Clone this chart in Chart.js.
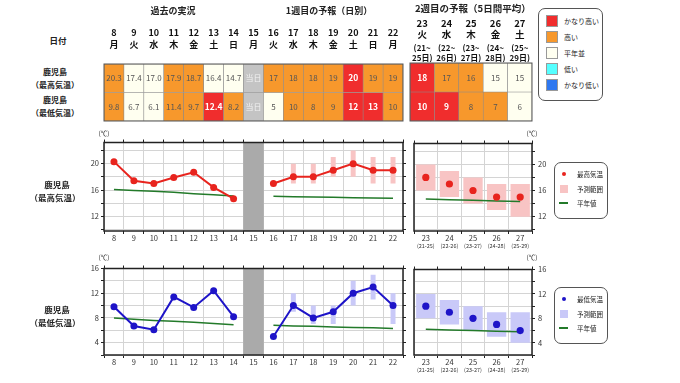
<!DOCTYPE html>
<html>
<head>
<meta charset="utf-8">
<script src="https://cdn.jsdelivr.net/npm/chart.js@4.4.1/dist/chart.umd.min.js"></script>
<style>
  body { margin: 0; background: #fff; }
  #wrap { position: relative; width: 680px; height: 383px; overflow: hidden; background: #fff;
          font-family: "Noto Sans CJK JP", "Noto Sans", sans-serif; color: #222; }
  #wrap canvas { position: absolute; }
  .tx { position: absolute; white-space: nowrap; line-height: 1; }
  .box { position: absolute; border: 1.5px solid #555; border-radius: 7px; background: #fff; box-sizing: border-box; }
  .sw { position: absolute; box-sizing: border-box; }
</style>
</head>
<body>
<div id="wrap">
  <canvas id="tblL"></canvas>
  <canvas id="tblR"></canvas>
  <canvas id="maxL"></canvas>
  <canvas id="maxR"></canvas>
  <canvas id="minL"></canvas>
  <canvas id="minR"></canvas>
</div>
<script>
// 日付（過去の実況 + 1週目）
var days1 = ['8','9','10','11','12','13','14','15','16','17','18','19','20','21','22'];
var week1 = ['月','火','水','木','金','土','日','月','火','水','木','金','土','日','月'];
var today = '15';
var obsDays = 7;   // 8〜14日は実況値
// 2週目（5日間平均）
var days2 = ['23','24','25','26','27'];
var week2 = ['火','水','木','金','土'];
var from2 = ['(21~','(22~','(23~','(24~','(25~'];
var to2   = ['25日)','26日)','27日)','28日)','29日)'];
var span2 = ['(21-25)','(22-26)','(23-27)','(24-28)','(25-29)'];

// 最高気温
var maxTemp1 = [20.3,17.4,17.0,17.9,18.7,16.4,14.7,null,17,18,18,19,20,19,19];
var maxLow1  = [null,null,null,null,null,null,null,null,null,17,17,18,18,17,17];
var maxHigh1 = [null,null,null,null,null,null,null,null,null,20,20,21,22,21,21];
var maxNorm1 = [16.1,15.95,15.8,15.65,15.45,15.3,15.1,null,15.05,15.0,14.95,14.9,14.85,14.8,14.75];
var maxRank1 = ['h','n','n','h','h','n','n','t','h','h','h','h','vh','h','h'];
var maxTemp2 = [18,17,16,15,15];
var maxLow2  = [16,15,14,13,12];
var maxHigh2 = [20,19,18,17,17];
var maxNorm2 = [14.7,14.6,14.5,14.4,14.3];
var maxRank2 = ['vh','h','h','n','n'];

// 最低気温
var minTemp1 = [9.8,6.7,6.1,11.4,9.7,12.4,8.2,null,5,10,8,9,12,13,10];
var minLow1  = [null,null,null,null,null,null,null,null,null,9,7,7,10,11,7];
var minHigh1 = [null,null,null,null,null,null,null,null,null,12,10,10,14,15,12];
var minNorm1 = [8.0,7.8,7.6,7.45,7.3,7.1,6.9,null,6.8,6.7,6.65,6.55,6.45,6.4,6.3];
var minRank1 = ['h','n','n','h','h','vh','h','t','n','h','h','h','vh','vh','h'];
var minTemp2 = [10,9,8,7,6];
var minLow2  = [8,7,6,5,4];
var minHigh2 = [12,11,10,9,9];
var minNorm2 = [6.2,6.1,6.0,5.9,5.8];
var minRank2 = ['vh','vh','h','h','n'];

var rankNames  = ['かなり高い','高い','平年並','低い','かなり低い'];
var rankColors = ['#f02d2d','#f7982c','#fffff0','#55ffff','#2f78f0'];
var RANK = { vh: '#f02d2d', h: '#f7982c', n: '#fffff0', t: '#c4c4c4' };

var RED = '#e8241e', BLUE = '#1e14c8', GREEN = '#237a2a';
var PINK = '#f8c4c4', LAV = '#c9c9f8', GRID = '#d4d4d4';

Chart.defaults.font.family = '"Noto Sans CJK JP", "Noto Sans", sans-serif';
Chart.defaults.color = '#333';

var wrap = document.getElementById('wrap');

function place(id, x0, y0, x1, y1, m) {
  var c = document.getElementById(id);
  c.width = x1 - x0 + m.l + m.r;
  c.height = y1 - y0 + m.t + m.b;
  c.style.left = (x0 - m.l) + 'px';
  c.style.top = (y0 - m.t) + 'px';
  return c;
}

function fixSize(n) {
  return function (s) { if (s.isHorizontal()) s.height = n; else s.width = n; };
}

// 枠線
var frame = {
  id: 'frame',
  afterDraw: function (chart, args, opts) {
    var a = chart.chartArea, ctx = chart.ctx;
    ctx.save();
    ctx.strokeStyle = opts.color || '#222';
    ctx.lineWidth = opts.width || 1.5;
    ctx.strokeRect(a.left, a.top, a.right - a.left, a.bottom - a.top);
    ctx.restore();
  }
};

// 表のセルの数字
var cellText = {
  id: 'cellText',
  afterDatasetsDraw: function (chart) {
    var ctx = chart.ctx;
    chart.data.datasets.forEach(function (ds, di) {
      chart.getDatasetMeta(di).data.forEach(function (bar, i) {
        var rk = ds.rank[i];
        ctx.save();
        ctx.font = (rk === 'vh' ? 'bold 8.5px ' : '8px ') + Chart.defaults.font.family;
        ctx.fillStyle = rk === 'vh' ? '#fff' : (rk === 't' ? '#f2f2f2' : '#555');
        ctx.textAlign = 'center';
        ctx.textBaseline = 'middle';
        ctx.fillText(ds.text[i], bar.x, (bar.y + bar.base) / 2);
        ctx.restore();
      });
    });
  }
};

function fmt1(temps) {
  return temps.map(function (v, i) {
    if (v == null) return '当日';
    return i < obsDays ? v.toFixed(1) : String(v);
  });
}
function fmt2(temps) { return temps.map(function (v) { return String(v); }); }

// headers: 表に近い順
function tableChart(id, x0, x1, y0, y1, cats, headers, rows) {
  var top = 0;
  headers.forEach(function (h) { top += h.h; });
  var c = place(id, x0, y0, x1, y1, { l: 10, r: 10, t: top, b: 2 });
  var ds = rows.map(function (r, k) {
    var lo = rows.length - 1 - k;
    return {
      data: r.rank.map(function () { return [lo, lo + 1]; }),
      backgroundColor: r.rank.map(function (rk) { return RANK[rk]; }),
      borderColor: '#8a8a8a', borderWidth: 0.6, borderSkipped: false,
      barPercentage: 1, categoryPercentage: 1, grouped: false,
      rank: r.rank, text: r.text
    };
  });
  var scales = { y: { display: false, min: 0, max: 2 } };
  headers.forEach(function (h, i) {
    scales[i === 0 ? 'x' : 'h' + i] = {
      type: 'category', labels: h.labels, position: 'top', offset: true, weight: i,
      grid: { display: false, drawTicks: false }, border: { display: false },
      ticks: { autoSkip: false, maxRotation: 0, padding: h.pad, color: '#111', font: h.font },
      afterFit: fixSize(h.h)
    };
  });
  new Chart(c, {
    type: 'bar',
    data: { labels: cats, datasets: ds },
    plugins: [frame, cellText],
    options: {
      responsive: false, animation: false, events: [],
      layout: { padding: { left: 10, right: 10, top: 0, bottom: 2 } },
      plugins: { legend: { display: false }, tooltip: { enabled: false }, frame: { color: '#555', width: 1 } },
      scales: scales
    }
  });
}

function xAxis(h) {
  return { offset: true, weight: 0,
    grid: { offset: true, color: GRID, tickLength: 3, tickColor: '#222' }, border: { display: false },
    ticks: { autoSkip: false, maxRotation: 0, padding: 0, color: '#333', font: { size: 7.5 } },
    afterFit: fixSize(h) };
}
function topTicks() {
  return { position: 'top', offset: true,
    grid: { offset: true, drawOnChartArea: false, tickLength: 3, tickColor: '#222' }, border: { display: false },
    ticks: { display: false }, afterFit: fixSize(4) };
}
function yAxis(pos, min, max, w, labels) {
  return { position: pos, min: min, max: max,
    ticks: { display: labels, stepSize: 2, includeBounds: false, padding: pos === 'left' ? 2 : 3,
             color: '#333', font: { size: 7.5 },
             callback: function (v) { return v % 4 === 0 ? v : ''; } },
    grid: { drawOnChartArea: labels, color: GRID, tickLength: 3, tickColor: '#222' },
    border: { display: false }, afterFit: fixSize(w) };
}

var common = {
  responsive: false, animation: false, events: [],
  layout: { padding: 0 }
};

function leftPlot(id, y0, y1, yMin, yMax, temp, low, high, norm, color, band) {
  var c = place(id, 104, y0, 403, y1, { l: 64, r: 6, t: 4, b: 22 });
  var range = low.map(function (v, i) { return v == null ? null : [v, high[i]]; });
  var gray = days1.map(function (d) { return d === today ? [yMin, yMax] : null; });
  new Chart(c, {
    type: 'bar',
    data: { labels: days1, datasets: [
      { type: 'line', data: temp, borderColor: color, backgroundColor: color, borderWidth: 2,
        pointRadius: 3.5, pointBorderWidth: 0, order: 0 },
      { type: 'line', data: norm, borderColor: GREEN, borderWidth: 1.5, pointRadius: 0, order: 1 },
      { data: range, backgroundColor: band, barPercentage: 0.25, categoryPercentage: 1, grouped: false, order: 2 },
      { data: gray, backgroundColor: '#aaaaaa', barPercentage: 1, categoryPercentage: 1, grouped: false, order: 3 }
    ]},
    plugins: [frame],
    options: Object.assign({}, common, {
      plugins: { legend: { display: false }, tooltip: { enabled: false }, frame: { color: '#222', width: 1.5 } },
      scales: {
        x: xAxis(22),
        xt: topTicks(),
        y: yAxis('left', yMin, yMax, 64, true),
        yr: yAxis('right', yMin, yMax, 6, false)
      }
    })
  });
}

function rightPlot(id, y0, y1, yMin, yMax, temp, low, high, norm, color, band) {
  var c = place(id, 410, y0, 532, y1, { l: 0, r: 32, t: 4, b: 24 });
  var range = low.map(function (v, i) { return [v, high[i]]; });
  new Chart(c, {
    type: 'bar',
    data: { labels: days2, datasets: [
      { type: 'line', data: temp, showLine: false, borderColor: color, backgroundColor: color,
        pointRadius: 3.6, pointBorderWidth: 0, order: 0 },
      { type: 'line', data: norm, borderColor: GREEN, borderWidth: 1.5, pointRadius: 0, order: 1 },
      { data: range, backgroundColor: band, barPercentage: 0.82, categoryPercentage: 1, grouped: false, order: 2 }
    ]},
    plugins: [frame],
    options: Object.assign({}, common, {
      plugins: { legend: { display: false }, tooltip: { enabled: false }, frame: { color: '#222', width: 1.5 } },
      scales: {
        x: xAxis(12),
        x2: { type: 'category', labels: span2, position: 'bottom', offset: true, weight: 1,
              grid: { display: false, drawTicks: false }, border: { display: false },
              ticks: { autoSkip: false, maxRotation: 0, padding: 0, color: '#333', font: { size: 5.5 } },
              afterFit: fixSize(12) },
        xt: topTicks(),
        y: yAxis('right', yMin, yMax, 32, true)
      }
    })
  });
}

// 上の表
tableChart('tblL', 104, 403, 64, 121, days1,
  [ { labels: days1.map(function (d, i) { return [d, week1[i]]; }),
      font: { size: 9, weight: 'bold', lineHeight: 1.35 }, pad: 13, h: 64 } ],
  [ { rank: maxRank1, text: fmt1(maxTemp1) }, { rank: minRank1, text: fmt1(minTemp1) } ]);
tableChart('tblR', 410, 532, 63, 121, days2,
  [ { labels: from2.map(function (f, i) { return [f, to2[i]]; }),
      font: { size: 8, weight: 'bold', lineHeight: 1.25 }, pad: 0, h: 22 },
    { labels: days2.map(function (d, i) { return [d, week2[i]]; }),
      font: { size: 9.5, weight: 'bold', lineHeight: 1.2 }, pad: 1, h: 26 } ],
  [ { rank: maxRank2, text: fmt2(maxTemp2) }, { rank: minRank2, text: fmt2(minTemp2) } ]);

// グラフ
leftPlot('maxL', 140, 231, 9.8, 23.2, maxTemp1, maxLow1, maxHigh1, maxNorm1, RED, PINK);
rightPlot('maxR', 140, 231, 9.8, 23.2, maxTemp2, maxLow2, maxHigh2, maxNorm2, RED, PINK);
leftPlot('minL', 266, 355, 2, 16, minTemp1, minLow1, minHigh1, minNorm1, BLUE, LAV);
rightPlot('minR', 266, 355, 2, 16, minTemp2, minLow2, minHigh2, minNorm2, BLUE, LAV);

// 文字
function addText(txt, x, y, size, bold, anchor) {
  var d = document.createElement('div');
  d.className = 'tx';
  d.textContent = txt;
  d.style.left = x + 'px';
  d.style.top = y + 'px';
  d.style.fontSize = size + 'px';
  if (bold) d.style.fontWeight = 'bold';
  d.style.transform = anchor === 'left' ? 'translate(0,-50%)' : 'translate(-50%,-50%)';
  wrap.appendChild(d);
  return d;
}
addText('過去の実況', 173, 10, 9, true);
addText('1週目の予報（日別）', 329, 10, 9, true);
addText('2週目の予報（5日間平均）', 415, 9, 9.5, true, 'left');
addText('日付', 58, 40, 8.5, true);
addText('鹿児島', 55, 72, 8, true);
addText('（最高気温）', 55, 85, 8, true);
addText('鹿児島', 55, 100, 8, true);
addText('（最低気温）', 55, 113, 8, true);
addText('鹿児島', 57, 184, 8.5, true);
addText('（最高気温）', 55, 197, 8.5, true);
addText('鹿児島', 57, 309, 8.5, true);
addText('（最低気温）', 55, 322, 8.5, true);
addText('(℃)', 104, 133, 6.5, false);
addText('(℃)', 532, 133, 6.5, false);
addText('(℃)', 104, 257, 6.5, false);
addText('(℃)', 532, 257, 6.5, false);

// 凡例（階級）
function box(x, y, w, h) {
  var b = document.createElement('div');
  b.className = 'box';
  b.style.left = x + 'px'; b.style.top = y + 'px';
  b.style.width = w + 'px'; b.style.height = h + 'px';
  wrap.appendChild(b);
}
function swatch(x, y, w, h, css) {
  var s = document.createElement('div');
  s.className = 'sw';
  s.style.left = x + 'px'; s.style.top = y + 'px';
  s.style.width = w + 'px'; s.style.height = h + 'px';
  Object.assign(s.style, css);
  wrap.appendChild(s);
}
box(538, 8, 65, 93);
rankNames.forEach(function (n, i) {
  var cy = 21 + i * 16.1;
  swatch(546, cy - 6, 12, 12, { background: rankColors[i], border: '0.5px solid #999' });
  addText(n, 564, cy, 7, false, 'left');
});

// 凡例（グラフ）
function plotLegend(y, name, color, band) {
  box(554, y, 54, 57);
  swatch(562, y + 10, 4, 4, { background: color, borderRadius: '50%' });
  addText(name, 577, y + 12, 6.5, false, 'left');
  swatch(560, y + 23, 8, 8, { background: band });
  addText('予測範囲', 577, y + 27, 6.5, false, 'left');
  swatch(559, y + 40, 9, 2, { background: GREEN });
  addText('平年値', 577, y + 41, 6.5, false, 'left');
}
plotLegend(162, '最高気温', RED, PINK);
plotLegend(287, '最低気温', BLUE, LAV);
</script>
</body>
</html>
